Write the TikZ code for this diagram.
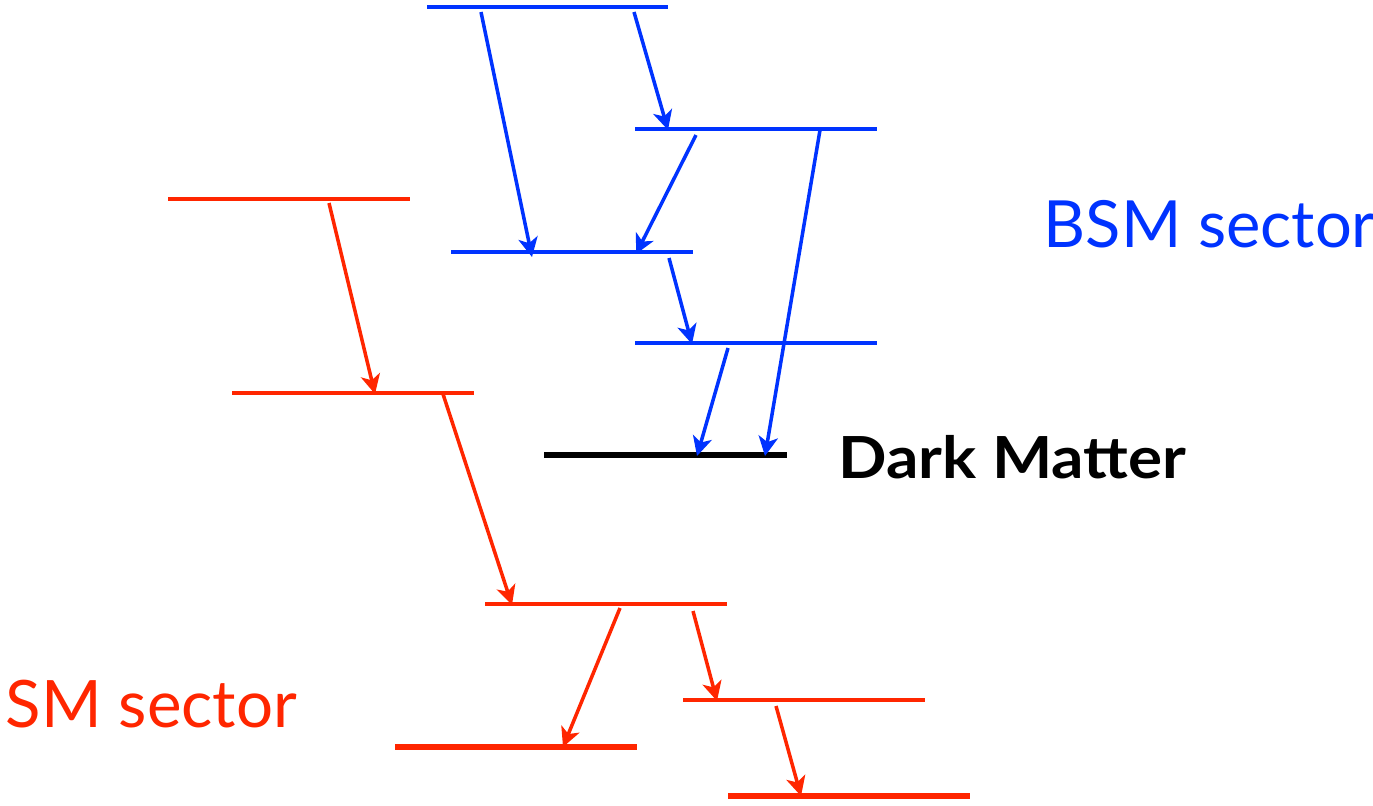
\documentclass[tikz,border=0pt]{standalone}
\usepackage{fontspec}
\usepackage{graphicx}
\setmainfont{Lato}
\usetikzlibrary{arrows.meta}
\definecolor{bsmblue}{RGB}{0,51,255}
\definecolor{smred}{RGB}{255,38,0}
\tikzset{
  level/.style={line width=1pt},
  ground/.style={line width=1.9pt},
  decay/.style={line width=1pt,-{Stealth[length=5.5pt,width=5.5pt,inset=1.5pt]}},
}

\begin{document}
\begin{tikzpicture}[x=0.01cm,y=-0.01cm]
\useasboundingbox (0,0) rectangle (1373,805);
% BSM levels
\foreach \xa/\xb/\y in {427/668/7, 635/877/129, 451/693/252, 635/877/343}
{   \draw[level,bsmblue] (\xa,\y) -- (\xb,\y);
}
\draw[ground,line width=1.6pt] (544,455) -- (787,455);
% SM levels
\foreach \xa/\xb/\y in {168/410/199, 232/474/393, 485/727/604, 683/925/700}
{   \draw[level,smred] (\xa,\y) -- (\xb,\y);
}
\draw[ground,smred] (395,747) -- (637,747);
\draw[ground,smred] (728,796) -- (970,796);
% decay ends
\coordinate (b1s) at (481,12);  \coordinate (b1e) at (532,257);
\coordinate (b2s) at (634,12);  \coordinate (b2e) at (668,130);
\coordinate (b3s) at (696,135); \coordinate (b3e) at (636,254);
\coordinate (b4s) at (669,258); \coordinate (b4e) at (692,344);
\coordinate (b5s) at (728,348); \coordinate (b5e) at (697,456);
\coordinate (b6s) at (820,130); \coordinate (b6e) at (765,456);
\coordinate (r1s) at (329,203); \coordinate (r1e) at (375,394);
\coordinate (r2s) at (443,394); \coordinate (r2e) at (512,605);
\coordinate (r3s) at (620,608); \coordinate (r3e) at (563,747);
\coordinate (r4s) at (693,611); \coordinate (r4e) at (717,701);
\coordinate (r5s) at (776,706); \coordinate (r5e) at (801,796);
\foreach \n in {1,...,6}
{   \draw[decay,bsmblue] (b\n s) -- (b\n e);
}
\foreach \n in {1,...,5}
{   \draw[decay,smred] (r\n s) -- (r\n e);
}
\node[anchor=base west,inner sep=0pt,text=bsmblue,font=\fontsize{18.5}{22}\selectfont] (bsm) at (1043,247) {BSM sector};
\node[anchor=base west,inner sep=0pt,text=smred,font=\fontsize{18.6}{22}\selectfont] (sm) at (5,727) {SM sector};
\node[anchor=base west,inner sep=0pt,font=\fontsize{16.5}{20}\selectfont\bfseries] (dm) at (838,478) {\scalebox{1.1}[1]{Dark Matter}};
\end{tikzpicture}
\end{document}
